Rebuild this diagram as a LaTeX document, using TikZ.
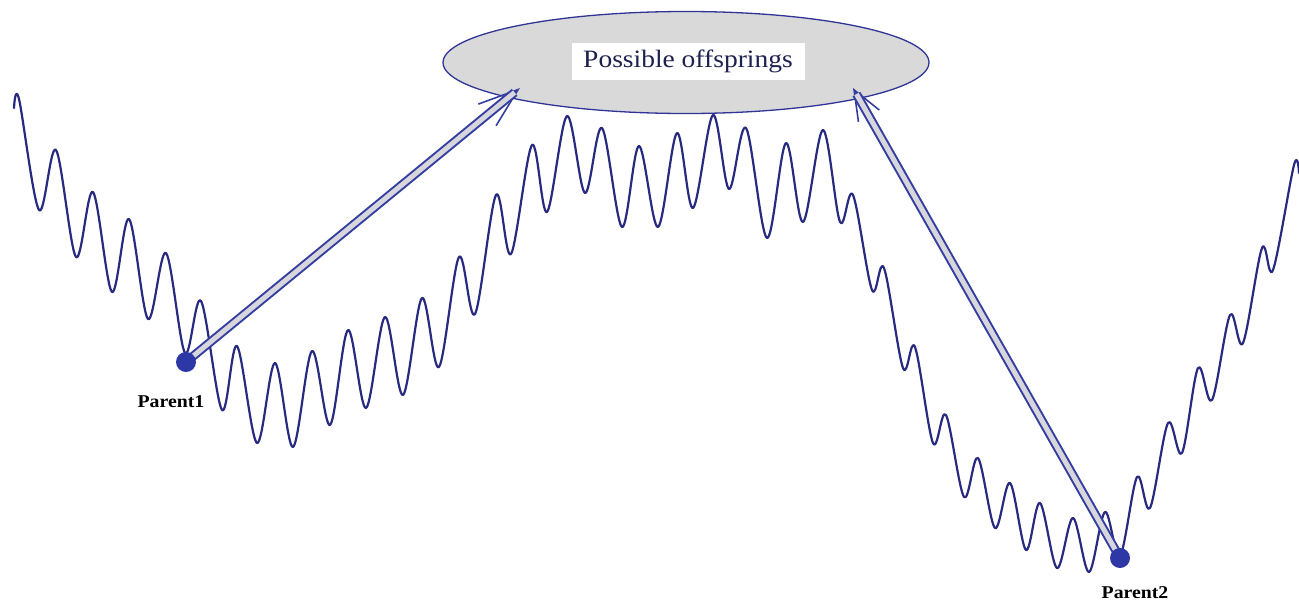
\documentclass[tikz,border=0pt]{standalone}
\usepackage{fontspec}
\setmainfont{Liberation Serif}
\newfontfamily\wideserif[FakeStretch=1.1]{Liberation Serif}
\usetikzlibrary{shapes.geometric,arrows.meta,calc}
\definecolor{curvecol}{RGB}{40,42,128}
\definecolor{dotcol}{RGB}{45,55,165}
\definecolor{arrcol}{RGB}{52,62,160}
\definecolor{shaftfill}{RGB}{214,214,220}
\definecolor{ellfill}{RGB}{217,217,217}
\definecolor{ellline}{RGB}{48,52,150}
\definecolor{txtcol}{RGB}{30,32,80}
\tikzset{
  landscape/.style={draw=curvecol, line width=2.2pt, line join=round, line cap=round},
  offspringell/.style={ellipse, draw=ellline, line width=1.3pt, fill=ellfill, inner sep=0pt},
  offlabel/.style={fill=white, inner sep=0pt, text=txtcol, font=\wideserif\fontsize{25}{30}\selectfont},
  parentdot/.style={circle, fill=dotcol, inner sep=0pt, minimum size=20pt},
  parentlabel/.style={font=\wideserif\bfseries\fontsize{18}{22}\selectfont, text=black, anchor=base},
  shaft/.style={draw=arrcol, line width=2pt, double=shaftfill, double distance=5pt, line cap=butt},
  barb/.style={draw=arrcol, line width=1.6pt}
}
\begin{document}
\begin{tikzpicture}[x=1pt,y=-1pt]
\useasboundingbox (0,0) rectangle (1299,600);
% fitness landscape
\draw[landscape] plot[smooth, tension=0.55] coordinates {
(14,108) (19,99) (39,210) (56,150) (76,257) (93,192) (112,292) (129,219) (148,319) (166,253)
(185,353) (201,301) (222,410) (237,346) (257,443) (275,363) (293,447) (312,351) (330,425) (348,330)
(366,408) (385,317) (403,395) (422,298) (439,367) (459,257) (475,314) (496,195) (511,254) (532,145)
(547,212) (567,116) (585,193) (602,128) (622,227) (639,146) (658,227) (677,133) (693,208) (713,115)
(729,189) (746,128) (767,238) (786,143) (803,222) (823,130) (840,222) (853,195) (872,290) (884,268)
(903,368) (915,347) (933,443) (946,415) (964,497) (978,458) (995,528) (1010,483) (1026,550) (1040,503)
(1057,568) (1073,518) (1089,572) (1105,512) (1120,556) (1137,477) (1150,508) (1168,423) (1182,453) (1198,368)
(1212,400) (1230,315) (1243,343) (1262,248) (1273,270) (1294,165) (1299,173)};
% offspring region
\node[offspringell, minimum width=486pt, minimum height=102pt] (off) at (686,62.5) {};
\node[offlabel, minimum width=233pt, minimum height=37pt] (offtxt) at (688,61.5) {Possible offsprings};
% parents
\coordinate (p1) at (186,362);
\coordinate (p2) at (1120,558);
\coordinate (t1) at (520,88);
\coordinate (t2) at (853,88);
% arrows
\draw[barb, -{Straight Barb[length=40pt, width=28pt, line width=1.6pt]}] (p1) -- (t1);
\draw[shaft, shorten >=7pt] (p1) -- (t1);
\draw[barb, -{Straight Barb[length=30pt, width=24pt, line width=1.6pt]}] (p2) -- (t2);
\draw[shaft, shorten >=7pt] (p2) -- (t2);
\node[parentdot] (d1) at (p1) {};
\node[parentdot] (d2) at (p2) {};
\node[parentlabel] (l1) at (171,407) {Parent1};
\node[parentlabel] (l2) at (1135,598) {Parent2};
\end{tikzpicture}
\end{document}
